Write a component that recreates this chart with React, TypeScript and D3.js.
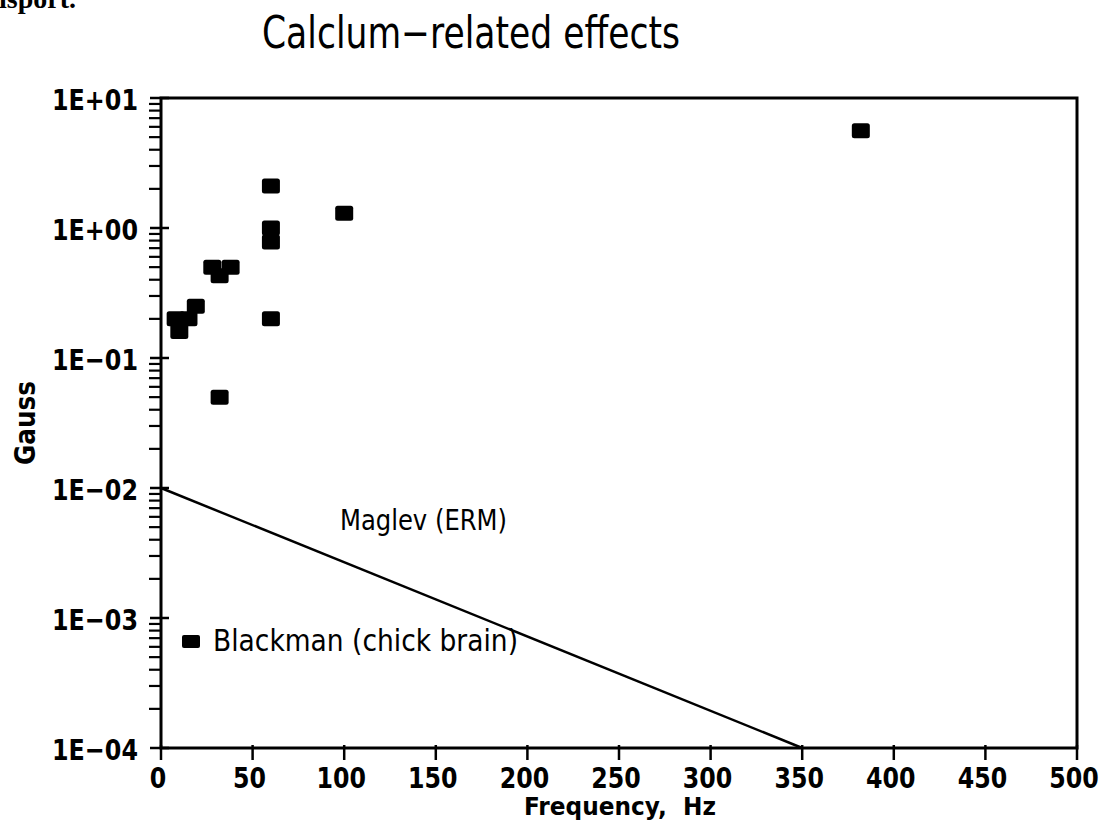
import React from "react";
import * as d3 from "d3";

// ---- data ----
const blackmanFreq = [28, 38, 32, 19, 8, 15, 10, 60, 32, 60, 100, 60, 60, 382];
const blackmanGauss = [0.5, 0.5, 0.43, 0.25, 0.2, 0.2, 0.16, 0.2, 0.05, 2.1, 1.3, 1.0, 0.78, 5.6];
const maglevFreq = [0, 350];
const maglevGauss = [0.01, 0.0001];
const xTicks = [0, 50, 100, 150, 200, 250, 300, 350, 400, 450, 500];
const yTicks = [10, 1, 0.1, 0.01, 0.001, 0.0001];
const yTickLabels = ["1E+01", "1E+00", "1E-01", "1E-02", "1E-03", "1E-04"];

const W = 1109;
const H = 829;
const left = 161;
const right = 1077;
const top = 98;
const bottom = 748;

const FONT = "'DejaVu Sans', sans-serif";

export default function App() {
  const x = d3.scaleLinear().domain([0, 500]).range([left, right]);
  const y = d3.scaleLog().domain([1e-4, 10]).range([bottom, top]);

  const minor: number[] = [];
  for (let e = -4; e < 1; e++) {
    for (let m = 2; m <= 9; m++) minor.push(m * Math.pow(10, e));
  }

  const line = d3
    .line<number>()
    .x((_, i) => x(maglevFreq[i]))
    .y((_, i) => y(maglevGauss[i]));

  const pts = blackmanFreq.map((f, i) => ({ f, g: blackmanGauss[i] }));

  return (
    <svg
      width={W}
      height={H}
      style={{ position: "absolute", left: 0, top: 0, background: "#fff", overflow: "hidden" }}
    >
      <rect x={0} y={0} width={W} height={H} fill="#fff" />
      {/* scanned page fragment */}
      <text x={-1} y={8} fontFamily="'Liberation Serif', serif" fontWeight="bold" fontSize={28} fill="#000">
        isport.
      </text>

      {/* title */}
      <text
        x={471}
        y={48}
        textAnchor="middle"
        fontFamily={FONT}
        fontSize={44}
        textLength={418}
        lengthAdjust="spacingAndGlyphs"
        fill="#000"
      >
        Calclum−related effects
      </text>

      {/* frame */}
      <rect x={left} y={top} width={right - left} height={bottom - top} fill="none" stroke="#000" strokeWidth={3} />

      {/* y minor ticks */}
      {minor.map((v, i) => (
        <line key={"m" + i} x1={left - 12} x2={left} y1={y(v)} y2={y(v)} stroke="#000" strokeWidth={2.2} />
      ))}
      {/* y major ticks + labels */}
      {yTicks.map((v, i) => (
        <g key={"y" + i}>
          <line x1={left - 11} x2={left + 8} y1={y(v)} y2={y(v)} stroke="#000" strokeWidth={2.5} />
          <text
            x={138}
            y={y(v) + 12}
            textAnchor="end"
            fontFamily={FONT}
            fontWeight="bold"
            fontSize={29}
            textLength={86}
            lengthAdjust="spacingAndGlyphs"
            fill="#000"
          >
            {yTickLabels[i].replace("-", "−")}
          </text>
        </g>
      ))}

      {/* x ticks + labels */}
      {xTicks.map((v, i) => (
        <g key={"x" + i}>
          <line x1={x(v)} x2={x(v)} y1={bottom - 3} y2={bottom + 12} stroke="#000" strokeWidth={2.5} />
          <text
            x={x(v) - 3}
            y={788}
            textAnchor="middle"
            fontFamily={FONT}
            fontWeight="bold"
            fontSize={28}
            textLength={String(v).length * 16.5}
            lengthAdjust="spacingAndGlyphs"
            fill="#000"
          >
            {v}
          </text>
        </g>
      ))}

      {/* axis titles */}
      <text
        x={620}
        y={815}
        textAnchor="middle"
        fontFamily={FONT}
        fontWeight="bold"
        fontSize={24}
        textLength={192}
        lengthAdjust="spacingAndGlyphs"
        fill="#000"
        style={{ whiteSpace: "pre" }}
      >
        {"Frequency,  Hz"}
      </text>
      <text
        transform={`translate(35,${(top + bottom) / 2}) rotate(-90)`}
        textAnchor="middle"
        fontFamily={FONT}
        fontWeight="bold"
        fontSize={28}
        textLength={84}
        lengthAdjust="spacingAndGlyphs"
        fill="#000"
      >
        Gauss
      </text>

      {/* Maglev line */}
      <path d={line(maglevFreq) || ""} fill="none" stroke="#000" strokeWidth={2.5} />
      <text
        x={340}
        y={530}
        fontFamily={FONT}
        fontSize={29}
        textLength={167}
        lengthAdjust="spacingAndGlyphs"
        fill="#000"
      >
        Maglev (ERM)
      </text>

      {/* Blackman points */}
      {pts.map((p, i) => (
        <rect
          key={"p" + i}
          x={x(p.f) - 9}
          y={y(p.g) - 7.5}
          width={18}
          height={15}
          rx={2.5}
          fill="#000"
        />
      ))}

      {/* legend */}
      <rect x={182} y={635} width={18} height={13} rx={2} fill="#000" />
      <text
        x={213}
        y={651}
        fontFamily={FONT}
        fontSize={30}
        textLength={305}
        lengthAdjust="spacingAndGlyphs"
        fill="#000"
      >
        Blackman (chick brain)
      </text>
    </svg>
  );
}
